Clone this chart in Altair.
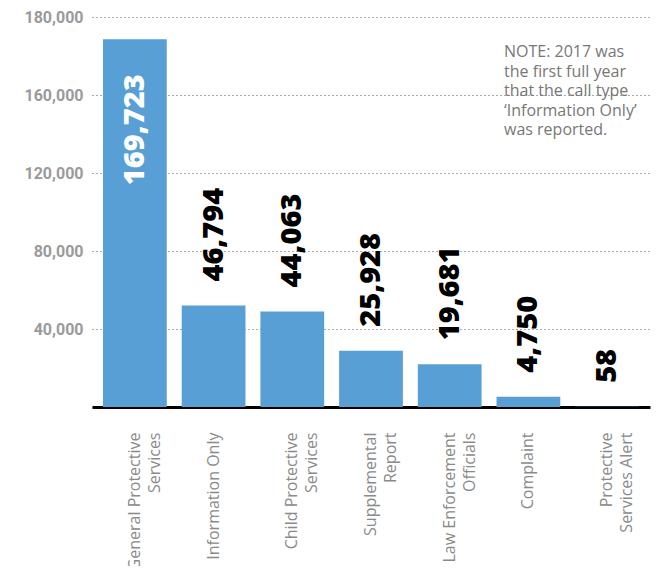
import altair as alt
import pandas as pd

categories = ["General Protective Services", "Information Only", "Child Protective Services",
              "Supplemental Report", "Law Enforcement Officials", "Complaint",
              "Protective Services Alert"]
label_lines = [["General Protective", "Services"], ["Information Only"],
               ["Child Protective", "Services"], ["Supplemental", "Report"],
               ["Law Enforcement", "Officials"], ["Complaint"],
               ["Protective", "Services Alert"]]
values = [169723, 46794, 44063, 25928, 19681, 4750, 58]

grid_values = [0, 18000, 36000, 54000, 72000, 90000, 108000, 126000, 144000, 162000, 180000]
tick_values = [36000, 72000, 108000, 144000, 180000]
tick_labels = ["40,000", "80,000", "120,000", "160,000", "180,000"]

note_lines = ["NOTE: 2017 was", "the first full year", "that the call type",
              "\u2018Information Only\u2019", "was reported."]

df = pd.DataFrame({"cat": categories, "value": values,
                   "txt": [f"{v:,}" for v in values]})

tick_map = "{" + ",".join(f"'{v}':'{l}'" for v, l in zip(tick_values, tick_labels)) + "}"
line_map = "{" + ",".join(
    f"'{c}':[" + ",".join(f"'{s}'" for s in ls) + "]" for c, ls in zip(categories, label_lines)) + "}"

x = alt.X("cat:N", sort=categories, title=None,
          scale=alt.Scale(paddingInner=0.19, paddingOuter=0.14),
          axis=alt.Axis(labelAngle=-90, labelAlign="right", labelBaseline="middle",
                        labelPadding=25, ticks=False, domain=True, domainColor="#000000",
                        domainWidth=3, labelFont="Open Sans", labelFontSize=16,
                        labelColor="#8a8a8a", labelLineHeight=20,
                        labelExpr=f"{line_map}[datum.label]", grid=False))
y = alt.Y("value:Q", title=None, scale=alt.Scale(domain=[0, 180000], nice=False),
          axis=alt.Axis(values=grid_values, grid=True, gridDash=[1, 3], gridColor="#555555",
                        gridWidth=1, ticks=False, domain=False, labelPadding=9,
                        labelFont="Roboto", labelFontWeight="bold", labelFontSize=16,
                        labelColor="#9a9a9a",
                        labelExpr=f"{tick_map}[datum.value] || ''"))

bars = alt.Chart(df).mark_bar(color="#579fd4").encode(x=x, y=y)

outside = alt.Chart(df).transform_filter(alt.datum.value < 100000).mark_text(
    angle=270, align="left", baseline="middle", dx=24, font="Open Sans",
    fontWeight=800, fontSize=29, color="#000000").encode(
    x=alt.X("cat:N", sort=categories), y="value:Q", text="txt:N")

inside = alt.Chart(df).transform_filter(alt.datum.value >= 100000).mark_text(
    angle=270, align="right", baseline="middle", dx=-35, font="Open Sans",
    fontWeight=800, fontSize=29, color="#ffffff").encode(
    x=alt.X("cat:N", sort=categories), y="value:Q", text="txt:N")

note = alt.Chart(pd.DataFrame({"t": [note_lines]})).mark_text(
    align="left", baseline="top", font="Open Sans", fontSize=16, color="#777777",
    lineHeight=19.5).encode(x=alt.value(412), y=alt.value(27), text="t")

chart = alt.layer(bars, outside, inside, note).properties(
    width=558, height=390, autosize="none",
    padding={"left": 84, "top": 9, "right": 2, "bottom": 159}
).configure_view(stroke=None)

chart.save("out.html", embed_options={"renderer": "svg", "actions": False})
